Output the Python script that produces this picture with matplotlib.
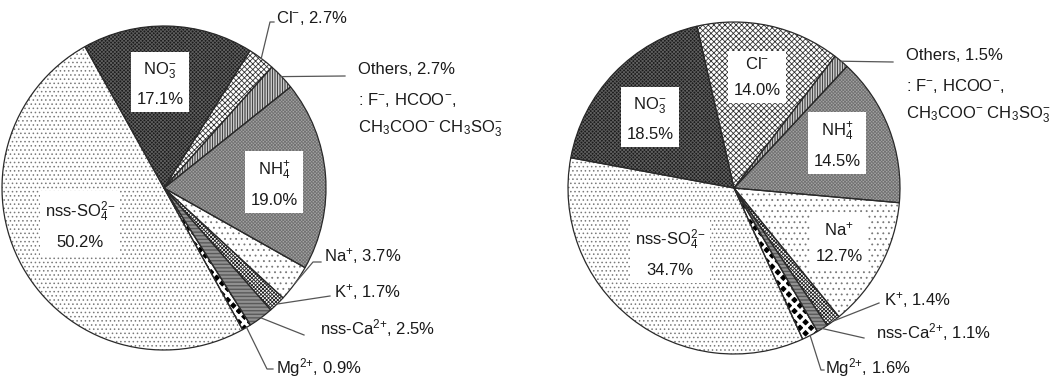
import matplotlib.pyplot as plt
import numpy as np

plt.rcParams["font.family"] = "Liberation Sans"
plt.rcParams["mathtext.fontset"] = "custom"
plt.rcParams["mathtext.rm"] = "Liberation Sans"
plt.rcParams["mathtext.it"] = "Liberation Sans:italic"
plt.rcParams["mathtext.bf"] = "Liberation Sans:bold"
plt.rcParams["hatch.linewidth"] = 0.6

W, H = 1062, 379

ions = ["NO3", "Cl", "Others", "NH4", "Na", "K", "Ca", "Mg", "SO4"]
ion_labels = [r"NO$_3^{-}$", r"Cl$^{-}$", "Others", r"NH$_4^{+}$", r"Na$^{+}$",
              r"K$^{+}$", r"nss-Ca$^{2{+}}$", r"Mg$^{2{+}}$", r"nss-SO$_4^{2{-}}$"]
share_left = [17.1, 2.7, 2.7, 19.0, 3.7, 1.7, 2.5, 0.9, 50.2]
share_right = [18.5, 14.0, 1.5, 14.5, 12.7, 1.4, 1.1, 1.6, 34.7]
others_note = [r": F$^{-}$, HCOO$^{-}$,", r"CH$_3$COO$^{-}$ CH$_3$SO$_3^{-}$"]

# fill, hatch, hatch colour, hatch width for each ion
styles = {
    "NO3": ("#1c1c1c", "x" * 9, "#5e5e5e", 0.6),
    "Cl": ("white", "x" * 6, "#333333", 0.6),
    "Others": ("white", "|" * 10, "#222222", 0.6),
    "NH4": ("#a4a4a4", "x" * 10, "#727272", 0.6),
    "Na": ("white", "." * 3, "#777777", 0.6),
    "K": ("white", "x" * 9, "#222222", 0.6),
    "Ca": ("#cfcfcf", "-" * 12, "#444444", 0.6),
    "Mg": ("#000000", "x" * 3, "white", 2.2),
    "SO4": ("white", "." * 4, "#7a7a7a", 0.6),
}


def py(y):
    # pixel rows counted from the top
    return H - y


# pie geometry and label placement, in pixels
pies = [
    {
        "values": share_left, "center": (164, 188), "radius": 162, "start": 119.2,
        "inside": {"NO3": (160, 84), "NH4": (274, 184), "SO4": (80, 225)},
        "outside": {
            "Cl": ((276, 18), [(270, 22), (274, 22)]),
            "Others": ((358, 69), [(345, 76)]),
            "Na": ((324, 256), [(313, 262), (321, 262)]),
            "K": ((334, 292), [(330, 296)]),
            "Ca": ((320, 328), [(304, 335)]),
            "Mg": ((276, 368), [(267, 369), (273, 369)]),
        },
        "note": [(358, 100), (358, 129)],
    },
    {
        "values": share_right, "center": (734, 188), "radius": 166, "start": 169.5,
        "inside": {"NO3": (650, 119), "Cl": (757, 77), "NH4": (837, 145),
                   "Na": (839, 242), "SO4": (670, 253)},
        "outside": {
            "Others": ((906, 55), [(893, 62)]),
            "K": ((884, 300), [(879, 303)]),
            "Ca": ((876, 332), [(864, 338)]),
            "Mg": ((825, 368), [(821, 370), (824, 370)]),
        },
        "note": [(906, 86), (906, 115)],
    },
]

fig = plt.figure(figsize=(W / 100, H / 100), dpi=100)
ax = fig.add_axes([0, 0, 1, 1])

txt_kw = dict(fontsize=12, color="#1a1a1a")

for p in pies:
    cx, cy = p["center"]
    r = p["radius"]
    wedges, _ = ax.pie(p["values"], startangle=p["start"], counterclock=False,
                       center=(cx, py(cy)), radius=r,
                       wedgeprops=dict(linewidth=0))
    for w, ion in zip(wedges, ions):
        face, hatch, hcol, hlw = styles[ion]
        w.set_facecolor(face)
        w.set_edgecolor(hcol)
        w.set_hatch(hatch)
        if hasattr(w, "set_hatch_linewidth"):
            w.set_hatch_linewidth(hlw)
    # outlines on top of the hatching
    ax.pie(p["values"], startangle=p["start"], counterclock=False,
           center=(cx, py(cy)), radius=r,
           wedgeprops=dict(facecolor="none", edgecolor="#2a2a2a", linewidth=0.9))

    for ion, (x, y) in p["inside"].items():
        i = ions.index(ion)
        ax.text(x, py(y), f"{ion_labels[i]}\n{p['values'][i]:.1f}%", ha="center", va="center",
                linespacing=1.9, bbox=dict(boxstyle="square,pad=0.3", fc="white", ec="none"),
                **txt_kw)

    for ion, ((tx, ty), path) in p["outside"].items():
        i = ions.index(ion)
        w = wedges[i]
        mid = np.deg2rad((w.theta1 + w.theta2) / 2)
        ax0 = cx + r * np.cos(mid)
        ay0 = py(cy) + r * np.sin(mid)
        xs = [ax0] + [q[0] for q in path]
        ys = [ay0] + [py(q[1]) for q in path]
        ax.plot(xs, ys, color="#555555", linewidth=0.9)
        ax.text(tx, py(ty), f"{ion_labels[i]}, {p['values'][i]:.1f}%", ha="left", va="center",
                **txt_kw)

    for line, (nx, ny) in zip(others_note, p["note"]):
        ax.text(nx, py(ny), line, ha="left", va="center", **txt_kw)

ax.set_xlim(0, W)
ax.set_ylim(0, H)
ax.set_aspect("auto")
ax.axis("off")

fig.savefig("out.png", dpi=100, facecolor="white")
